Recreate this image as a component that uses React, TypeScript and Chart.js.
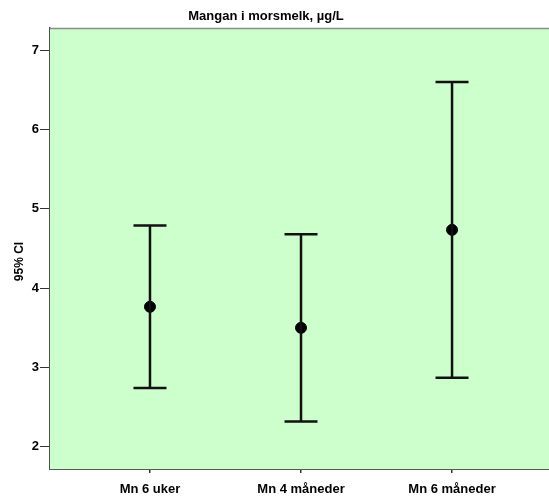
import React, { useEffect, useRef } from "react";
import { Chart, registerables } from "chart.js";

Chart.register(...registerables);

// Manganese in breast milk: mean with 95% confidence interval per sample
const categories = ["Mn 6 uker", "Mn 4 måneder", "Mn 6 måneder"];
const means = [3.765, 3.5, 4.735];
const lower = [2.74, 2.32, 2.87];
const upper = [4.79, 4.68, 6.6];
const yTicks = [2, 3, 4, 5, 6, 7];

const titleText = "Mangan i morsmelk, µg/L";
const yTitle = "95% CI";
const FONT = "Arial, 'Liberation Sans', sans-serif";

const chartDecor = {
  id: "chartDecor",
  beforeDatasetsDraw(chart: any) {
    const { ctx, chartArea } = chart;
    const { left, top, right, bottom } = chartArea;
    ctx.save();
    ctx.fillStyle = "#ccffcc";
    ctx.fillRect(left, top, right - left, bottom - top);
    // top frame line
    ctx.strokeStyle = "#8a8a8a";
    ctx.lineWidth = 1.5;
    ctx.beginPath();
    ctx.moveTo(left, top + 0.5);
    ctx.lineTo(right, top + 0.5);
    ctx.stroke();
    ctx.restore();
  },
  afterDatasetsDraw(chart: any) {
    const { ctx } = chart;
    const xs = chart.scales.x;
    const ys = chart.scales.y;
    ctx.save();
    ctx.strokeStyle = "#111111";
    ctx.lineWidth = 2.5;
    ctx.lineCap = "butt";
    const half = 16.5;
    for (let i = 0; i < categories.length; i++) {
      const px = xs.getPixelForValue(i);
      const yl = ys.getPixelForValue(lower[i]);
      const yu = ys.getPixelForValue(upper[i]);
      ctx.beginPath();
      ctx.moveTo(px, yu);
      ctx.lineTo(px, yl);
      ctx.moveTo(px - half, yu);
      ctx.lineTo(px + half, yu);
      ctx.moveTo(px - half, yl);
      ctx.lineTo(px + half, yl);
      ctx.stroke();
    }
    ctx.restore();
  },
  afterDraw(chart: any) {
    const { ctx, chartArea } = chart;
    ctx.save();
    ctx.fillStyle = "#000000";
    ctx.font = `bold 13px ${FONT}`;
    ctx.textAlign = "center";
    ctx.textBaseline = "middle";
    ctx.fillText(titleText, 266, 16);
    ctx.translate(20, (chartArea.top + chartArea.bottom) / 2 + 13);
    ctx.rotate(-Math.PI / 2);
    ctx.font = `bold 12px ${FONT}`;
    ctx.fillText(yTitle, 0, 0);
    ctx.restore();
  },
};

export default function App() {
  const canvasRef = useRef<HTMLCanvasElement | null>(null);

  useEffect(() => {
    if (!canvasRef.current) return;
    const chart = new Chart(canvasRef.current, {
      type: "scatter",
      data: {
        datasets: [
          {
            data: means.map((m, i) => ({ x: i, y: m })),
            backgroundColor: "#000000",
            borderColor: "#000000",
            pointRadius: 5.5,
            pointHoverRadius: 5.5,
          },
        ],
      },
      options: {
        animation: false,
        responsive: false,
        maintainAspectRatio: false,
        events: [],
        layout: { autoPadding: false, padding: { top: 28, left: 0, right: 0, bottom: 0 } },
        plugins: {
          legend: { display: false },
          tooltip: { enabled: false },
          title: { display: false },
        },
        scales: {
          x: {
            type: "linear",
            min: -0.662,
            max: 2.642,
            afterFit: (s: any) => {
              s.height = 27;
              s.paddingLeft = 0;
              s.paddingRight = 0;
            },
            afterBuildTicks: (s: any) => {
              s.ticks = categories.map((_, i) => ({ value: i }));
            },
            ticks: {
              callback: (v: any) => categories[v as number] ?? "",
              color: "#000000",
              font: { family: FONT, size: 13, weight: "bold" },
              padding: 9,
              maxRotation: 0,
              autoSkip: false,
            },
            grid: {
              drawOnChartArea: false,
              drawTicks: true,
              tickLength: 4,
              color: "#333333",
              lineWidth: 1.5,
            },
            border: { display: true, color: "#555e55", width: 2 },
          },
          y: {
            type: "linear",
            min: 1.72,
            max: 7.28,
            afterFit: (s: any) => {
              s.width = 50;
              s.paddingTop = 0;
              s.paddingBottom = 0;
            },
            afterBuildTicks: (s: any) => {
              s.ticks = yTicks.map((v) => ({ value: v }));
            },
            ticks: {
              color: "#000000",
              font: { family: FONT, size: 13, weight: "bold" },
              padding: 1,
            },
            grid: {
              drawOnChartArea: false,
              drawTicks: true,
              tickLength: 10,
              color: "#333333",
              lineWidth: 1,
            },
            border: { display: true, color: "#4a524a", width: 1.5 },
          },
        },
      },
      plugins: [chartDecor],
    });
    return () => chart.destroy();
  }, []);

  return (
    <div style={{ position: "fixed", left: 0, top: 0, width: 549, height: 496, background: "#ffffff" }}>
      <canvas ref={canvasRef} width={549} height={496} style={{ width: 549, height: 496, display: "block" }} />
    </div>
  );
}
